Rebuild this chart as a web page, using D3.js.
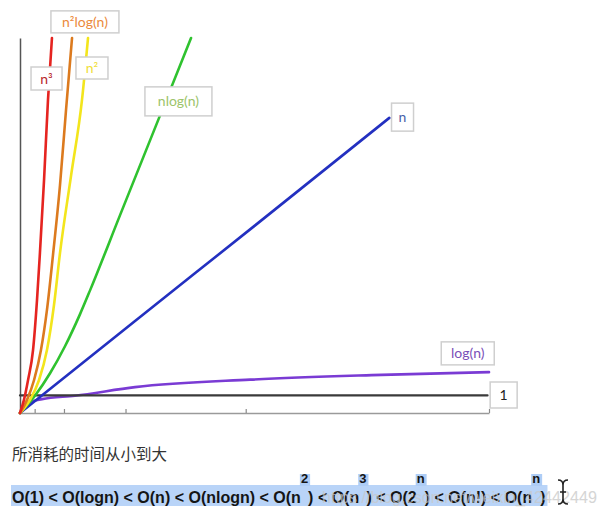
<!DOCTYPE html>
<html>
<head>
<meta charset="utf-8">
<script src="https://cdn.jsdelivr.net/npm/d3@7"></script>
<style>
  body { margin: 0; background: #fff; }
  svg { display: block; }
</style>
</head>
<body>
<div id="chart"></div>
<script>
// values (x = n, y = time, arbitrary units)
const xTicks = [1, 3, 7.2, 15.4, 32];

const constX = [0, 31.9];
const constY = [4.7, 4.7];

const logX = [0, 0.5, 1.5, 3.75, 7.85, 15.7, 24, 32];
const logY = [0, 2.6, 3.7, 4.6, 6.9, 8.9, 10.1, 10.9];

const linX = [0, 8, 16, 25.2];
const linY = [0, 25, 49.9, 78.7];

const nlognX = [0, 1.02, 2.05, 3.07, 4.09, 4.78, 6.82, 9.55, 11.67];
const nlognY = [0, 4.6, 10.6, 17.8, 26.3, 32.7, 52.7, 79.3, 100];

const sqX = [0, 0.68, 1.30, 1.84, 2.32, 2.73, 3.48, 4.23, 4.64];
const sqY = [0, 3.5, 8.8, 16.8, 28.8, 42.7, 63.2, 83.5, 100];

const sqlogX = [0, 0.48, 0.96, 1.43, 1.84, 2.25, 2.73, 3.14, 3.55];
const sqlogY = [0, 3.5, 8.8, 16.8, 27.5, 42.1, 60.8, 80.8, 100];

const cubeX = [0, 0.27, 0.55, 0.89, 1.16, 1.36, 1.64, 1.91, 2.18];
const cubeY = [0, 3.5, 8.8, 16.8, 30.1, 42.7, 62.1, 83.5, 100];

const seriesNames = ["log(n)", "1", "n", "nlog(n)", "n\u00b2", "n\u00b2log(n)", "n\u00b3"];

const orderText = "所消耗的时间从小到大";
// formula pieces, sup = superscript
const formulaParts = [
    {t: "O(1) < O(logn) < O(n) < O(nlogn) < O(n"}, {t: "2", sup: true},
    {t: ") < O(n"}, {t: "3", sup: true},
    {t: ") < O(2"}, {t: "n", sup: true},
    {t: ") < O(n!) < O(n"}, {t: "n", sup: true},
    {t: ")"}
];

class BigOChart {
    constructor() {
        this.svg = d3.select("#chart").append("svg")
            .attr("width", 603)
            .attr("height", 519);
        this.x = d3.scaleLinear().domain([0, 32]).range([20, 489]);
        this.y = d3.scaleLinear().domain([0, 100]).range([413, 38]);
        this.styles = {
            "1":        {stroke: "#3a3a3a", text: "#222",    lx: 33.0, ly: 4.8,   w: 27, h: 26},
            "log(n)":   {stroke: "#7a3bd4", text: "#7a4fb8", lx: 30.55, ly: 15.9, w: 53, h: 23},
            "n":        {stroke: "#2330c0", text: "#4a5fa8", lx: 26.1, ly: 78.9,  w: 22, h: 28},
            "nlog(n)":  {stroke: "#2fc22f", text: "#9cc46a", lx: 10.81, ly: 83.1, w: 67, h: 29},
            "n\u00b2":      {stroke: "#f3e51c", text: "#f0de3a", lx: 4.91, ly: 92,    w: 32, h: 22},
            "n\u00b2log(n)":{stroke: "#dc7a1e", text: "#eb8a3c", lx: 4.43, ly: 104.3, w: 68, h: 22},
            "n\u00b3":      {stroke: "#e52420", text: "#b8262a", lx: 1.81, ly: 89.2,  w: 31, h: 23}
        };
    }

    draw() {
        let self = this;
        const allX = [logX, constX, linX, nlognX, sqX, sqlogX, cubeX];
        const allY = [logY, constY, linY, nlognY, sqY, sqlogY, cubeY];

        // axes
        this.svg.append("g")
            .attr("transform", "translate(" + this.x(0) + ",0)")
            .call(d3.axisLeft(this.y).tickValues([]).tickSizeOuter(0))
            .call(g => g.select(".domain").attr("stroke", "#555").attr("stroke-width", 1.5));
        this.svg.append("g")
            .attr("transform", "translate(0," + this.y(0) + ")")
            .call(d3.axisBottom(this.x).tickValues(xTicks).tickSizeInner(-4).tickSizeOuter(0).tickFormat(""))
            .call(g => {
                g.select(".domain").attr("stroke", "#9a9a9a").attr("stroke-width", 1.5);
                g.selectAll(".tick line").attr("stroke", "#8a8a8a").attr("stroke-width", 1.2);
            });

        const line = d3.line()
            .x(d => self.x(d[0]))
            .y(d => self.y(d[1]))
            .curve(d3.curveMonotoneX);

        const series = seriesNames.map((name, i) => ({
            name: name,
            points: allX[i].map((v, j) => [v, allY[i][j]])
        }));

        this.svg.append("g").selectAll("path")
            .data(series)
            .enter()
            .append("path")
                .attr("d", s => line(s.points))
                .attr("fill", "none")
                .attr("stroke", s => self.styles[s.name].stroke)
                .attr("stroke-width", s => s.name === "1" ? 2.2 : 2.6)
                .attr("stroke-linecap", "round");

        // label boxes
        const labels = this.svg.append("g").selectAll("g")
            .data(series)
            .enter()
            .append("g")
                .attr("transform", s => "translate(" + self.x(self.styles[s.name].lx) + "," + self.y(self.styles[s.name].ly) + ")");
        labels.append("rect")
            .attr("x", s => -self.styles[s.name].w / 2)
            .attr("y", s => -self.styles[s.name].h / 2)
            .attr("width", s => self.styles[s.name].w)
            .attr("height", s => self.styles[s.name].h)
            .attr("fill", "#fff")
            .attr("stroke", "#cfcfcf")
            .attr("stroke-width", 1.5);
        labels.append("text")
            .attr("text-anchor", "middle")
            .attr("dy", "0.36em")
            .attr("font-family", "Lato, 'Open Sans', sans-serif")
            .attr("font-size", 14)
            .attr("fill", s => self.styles[s.name].text)
            .text(s => s.name);

        // caption
        this.svg.append("text")
            .attr("x", 12)
            .attr("y", 460)
            .attr("font-family", "'Noto Sans CJK SC', sans-serif")
            .attr("font-size", 15.5)
            .attr("fill", "#333")
            .text(orderText);

        this.drawFormula();
    }

    drawFormula() {
        const hl = this.svg.append("g");
        const txt = this.svg.append("g")
            .attr("font-family", "'Liberation Sans', Arial, sans-serif")
            .attr("font-weight", "bold")
            .attr("fill", "#151515");
        let cx = 12;
        formulaParts.forEach(p => {
            const t = txt.append("text")
                .attr("x", cx)
                .attr("y", p.sup ? 483 : 503)
                .attr("font-size", p.sup ? 13 : 16)
                .text(p.t);
            const w = t.node().getComputedTextLength();
            if (p.sup) {
                hl.append("rect")
                    .attr("x", cx - 1).attr("y", 474)
                    .attr("width", w + 3).attr("height", 12)
                    .attr("fill", "#aecdf6");
            }
            cx += w;
        });
        hl.insert("rect", ":first-child")
            .attr("x", 11).attr("y", 485)
            .attr("width", cx - 9).attr("height", 21)
            .attr("fill", "#b9d4f8");

        // watermark over the right half
        this.svg.append("text")
            .attr("x", 322)
            .attr("y", 503)
            .attr("font-family", "'Liberation Sans', Arial, sans-serif")
            .attr("font-size", 16)
            .attr("fill", "#c8c8c8")
            .attr("opacity", 0.75)
            .attr("textLength", 275)
            .attr("lengthAdjust", "spacingAndGlyphs")
            .text("https://blog.csdn.net/weixin_42442449");

        // text cursor
        this.svg.append("path")
            .attr("d", "M558,480 Q563,480 563,485 V499 Q563,504 558,504 M568,480 Q563,480 563,485 M563,499 Q563,504 568,504 M560,492 H566")
            .attr("fill", "none")
            .attr("stroke", "#222")
            .attr("stroke-width", 1.6);
    }
}

const chart = new BigOChart();
chart.draw();
</script>
</body>
</html>
